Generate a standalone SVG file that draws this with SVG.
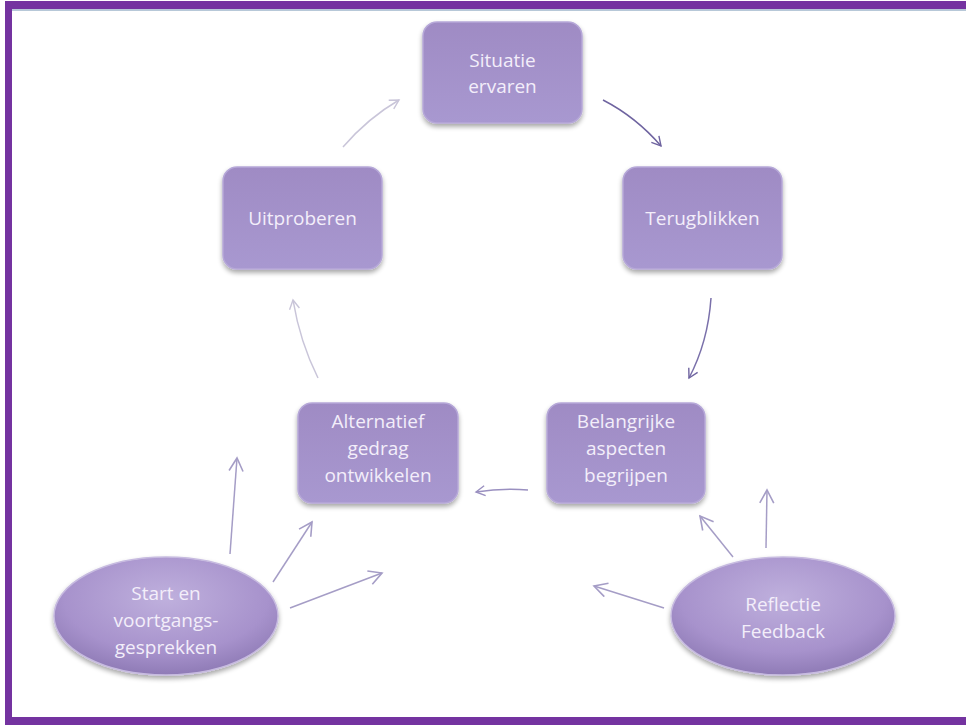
<svg xmlns="http://www.w3.org/2000/svg" width="966" height="725" viewBox="0 0 966 725">
<defs>
<linearGradient id="box" x1="0" y1="0" x2="0" y2="1">
<stop offset="0" stop-color="#9f8bc4"/>
<stop offset="1" stop-color="#a898d0"/>
</linearGradient>
<radialGradient id="ell" cx="0.5" cy="0.35" r="0.65">
<stop offset="0" stop-color="#bfb0dd"/>
<stop offset="0.7" stop-color="#a792cc"/>
<stop offset="1" stop-color="#8f7bb6"/>
</radialGradient>
<filter id="sh" x="-10%" y="-10%" width="125%" height="130%">
<feGaussianBlur in="SourceAlpha" stdDeviation="2.5"/>
<feOffset dx="0" dy="3" result="b"/>
<feComponentTransfer><feFuncA type="linear" slope="0.35"/></feComponentTransfer>
<feMerge><feMergeNode/><feMergeNode in="SourceGraphic"/></feMerge>
</filter>
<marker id="ahL" viewBox="0 0 12 12" refX="10" refY="6" markerWidth="12" markerHeight="12" markerUnits="userSpaceOnUse" orient="auto">
<path d="M1,1 L10,6 L1,11" fill="none" stroke="#c9c5d9" stroke-width="1.4"/>
</marker>
<marker id="ahD" viewBox="0 0 12 12" refX="10" refY="6" markerWidth="12" markerHeight="12" markerUnits="userSpaceOnUse" orient="auto">
<path d="M1,1 L10,6 L1,11" fill="none" stroke="#6f64a0" stroke-width="1.4"/>
</marker>
<marker id="ahM" viewBox="0 0 12 12" refX="10" refY="6" markerWidth="12" markerHeight="12" markerUnits="userSpaceOnUse" orient="auto">
<path d="M1,1 L10,6 L1,11" fill="none" stroke="#9a90c0" stroke-width="1.4"/>
</marker>
<marker id="ahS" viewBox="0 0 16 16" refX="14" refY="8" markerWidth="16" markerHeight="16" markerUnits="userSpaceOnUse" orient="auto">
<path d="M1,1 L14,8 L1,15" fill="none" stroke="#a59dc6" stroke-width="1.6"/>
</marker>
</defs>
<style>
.box{fill:url(#box);stroke:#b6a8d8;stroke-width:1.5;filter:url(#sh)}
.ell{fill:url(#ell);stroke:#c7bbe0;stroke-width:1.5;filter:url(#sh)}
.t{font-family:"Open Sans","Liberation Sans",sans-serif;font-size:19px;fill:#f3eefa;text-anchor:middle}
.c{fill:none;stroke-width:1.5}
</style>
<rect x="0" y="0" width="966" height="725" fill="#ffffff"/>
<g id="frame">
<rect x="5" y="1" width="961" height="8" fill="#7433a0"/>
<rect x="12" y="9" width="954" height="2" fill="#b7c8d8"/>
<rect x="5" y="1" width="7" height="724" fill="#7433a0"/>
<rect x="5" y="717" width="961" height="8" fill="#7433a0"/>
</g>
<g id="connectors">
<path class="c" d="M343,147 Q368,118 399,100" stroke="#c9c5d9" marker-end="url(#ahL)"/>
<path class="c" d="M603,100 Q636,117 661,146" stroke="#6f64a0" marker-end="url(#ahD)"/>
<path class="c" d="M711,298 Q708,342 689,378" stroke="#7a70aa" marker-end="url(#ahD)"/>
<path class="c" d="M528,490 Q502,488 476,492" stroke="#9a90c0" marker-end="url(#ahM)"/>
<path class="c" d="M318,378 Q300,342 293,300" stroke="#c9c5d9" marker-end="url(#ahL)"/>
<path class="c" d="M230,554 L237,458" stroke="#a59dc6" marker-end="url(#ahS)"/>
<path class="c" d="M273,582 L312,522" stroke="#a59dc6" marker-end="url(#ahS)"/>
<path class="c" d="M290,608 L382,573" stroke="#a59dc6" marker-end="url(#ahS)"/>
<path class="c" d="M733,557 L700,516" stroke="#a59dc6" marker-end="url(#ahS)"/>
<path class="c" d="M766,548 L767,490" stroke="#a59dc6" marker-end="url(#ahS)"/>
<path class="c" d="M664,608 L594,586" stroke="#a59dc6" marker-end="url(#ahS)"/>
</g>
<g id="situatie">
<rect class="box" x="423" y="22" width="159" height="101" rx="14"/>
<text class="t" x="502.5" y="67">Situatie</text>
<text class="t" x="502.5" y="93">ervaren</text>
</g>
<g id="uitproberen">
<rect class="box" x="223" y="167" width="159" height="102" rx="14"/>
<text class="t" x="302.5" y="225">Uitproberen</text>
</g>
<g id="terugblikken">
<rect class="box" x="623" y="167" width="159" height="102" rx="14"/>
<text class="t" x="702.5" y="225">Terugblikken</text>
</g>
<g id="alternatief">
<rect class="box" x="298" y="403" width="160" height="100" rx="14"/>
<text class="t" x="378" y="428">Alternatief</text>
<text class="t" x="378" y="455">gedrag</text>
<text class="t" x="378" y="482">ontwikkelen</text>
</g>
<g id="belangrijke">
<rect class="box" x="547" y="403" width="158" height="100" rx="14"/>
<text class="t" x="626" y="428">Belangrijke</text>
<text class="t" x="626" y="455">aspecten</text>
<text class="t" x="626" y="482">begrijpen</text>
</g>
<g id="start">
<ellipse class="ell" cx="166" cy="616" rx="112" ry="59"/>
<text class="t" x="166" y="600">Start en</text>
<text class="t" x="166" y="627">voortgangs-</text>
<text class="t" x="166" y="654">gesprekken</text>
</g>
<g id="reflectie">
<ellipse class="ell" cx="783" cy="616" rx="112" ry="59"/>
<text class="t" x="783" y="611">Reflectie</text>
<text class="t" x="783" y="638">Feedback</text>
</g>
</svg>
